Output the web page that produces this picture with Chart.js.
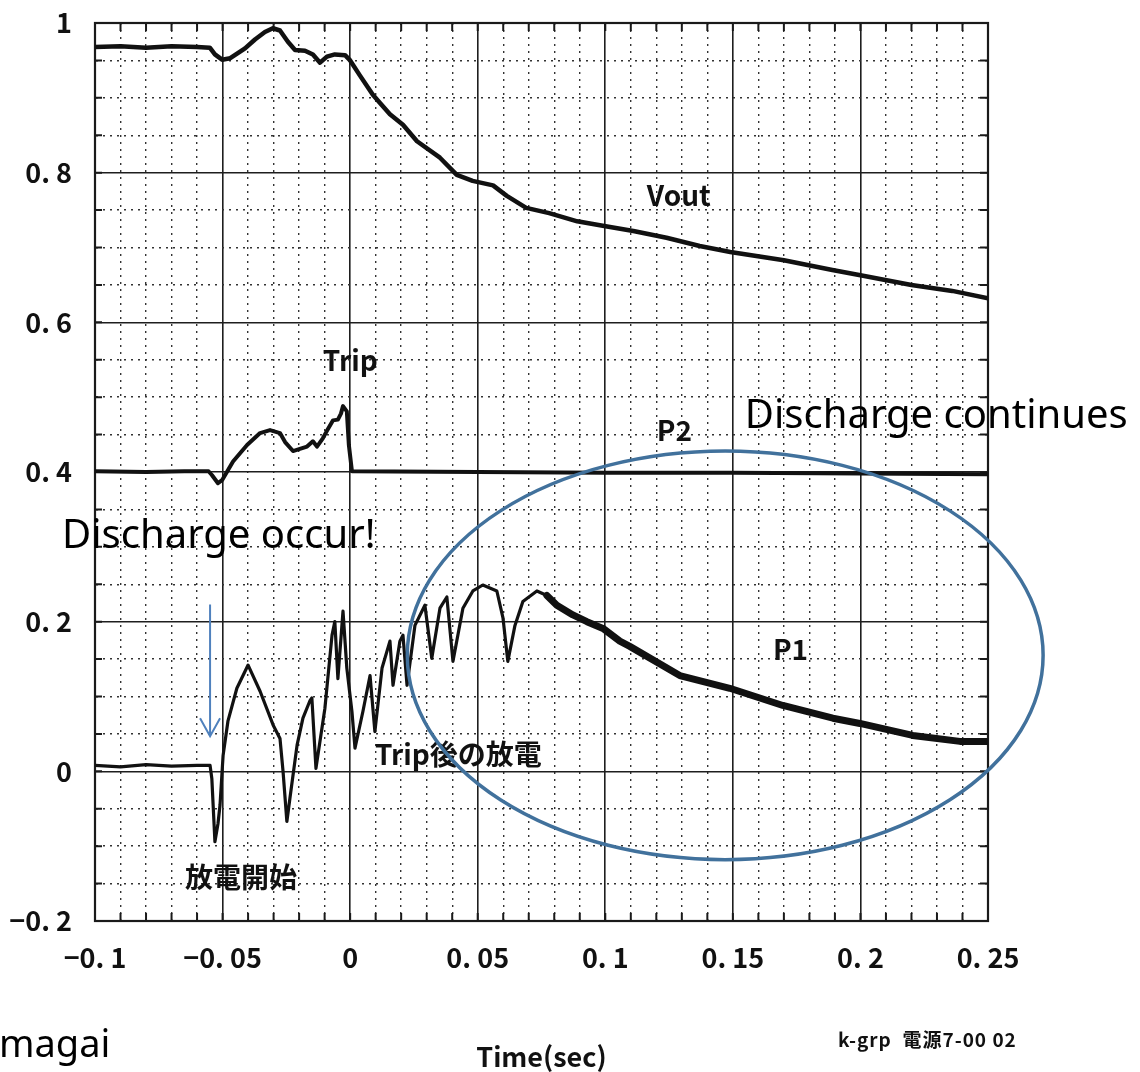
<!DOCTYPE html>
<html>
<head>
<meta charset="utf-8">
<script src="https://cdn.jsdelivr.net/npm/chart.js@4.4.1/dist/chart.umd.min.js"></script>
<style>
  body { margin: 0; background: #fff; }
  #contenedor { width: 1140px; height: 1072px; }
</style>
</head>
<body>
<div id="contenedor"><canvas id="grafica" width="1140" height="1072"></canvas></div>
<script>
// Vout
var tVout = [-0.1, -0.09, -0.08, -0.07, -0.06, -0.055, -0.053, -0.0502, -0.047, -0.0412,
             -0.0373, -0.0334, -0.0303, -0.0275, -0.0244, -0.0216, -0.0177, -0.0146, -0.0118, -0.0091,
             -0.006, -0.002, 0.0, 0.0038, 0.0089, 0.0117, 0.0156, 0.0207, 0.0262, 0.0352,
             0.0418, 0.048, 0.056, 0.0614, 0.069, 0.078, 0.089, 0.099, 0.111, 0.124,
             0.137, 0.149, 0.17, 0.189, 0.2, 0.22, 0.236, 0.25];
var vout  = [0.968, 0.969, 0.967, 0.969, 0.968, 0.967, 0.958, 0.951, 0.953, 0.966,
             0.978, 0.988, 0.993, 0.99, 0.975, 0.964, 0.963, 0.958, 0.947, 0.955,
             0.958, 0.957, 0.95, 0.93, 0.904, 0.893, 0.878, 0.864, 0.842, 0.82,
             0.797, 0.789, 0.783, 0.769, 0.753, 0.746, 0.735, 0.729, 0.722, 0.713,
             0.702, 0.694, 0.683, 0.67, 0.663, 0.65, 0.642, 0.632];

// P2
var tP2 = [-0.1, -0.08, -0.065, -0.0555, -0.0542, -0.0518, -0.0502, -0.0459, -0.0404, -0.0353,
           -0.0314, -0.0275, -0.0255, -0.0224, -0.0197, -0.0169, -0.0146, -0.013, -0.0107, -0.0091,
           -0.0067, -0.0048, -0.0036, -0.0028, -0.0013, -0.0005, 0.0007, 0.05, 0.1, 0.15,
           0.2, 0.25];
var p2  = [0.401, 0.4, 0.401, 0.401, 0.396, 0.385, 0.389, 0.414, 0.436, 0.452,
           0.456, 0.452, 0.44, 0.428, 0.431, 0.434, 0.441, 0.434, 0.445, 0.455,
           0.469, 0.47, 0.478, 0.488, 0.481, 0.436, 0.401, 0.4, 0.399, 0.399,
           0.398, 0.397];

// P1
var tP1 = [-0.1, -0.09, -0.08, -0.07, -0.06, -0.0549, -0.0542, -0.053, -0.0518, -0.051,
           -0.0498, -0.0479, -0.0444, -0.04, -0.0353, -0.0302, -0.0275, -0.0263, -0.0248, -0.0236,
           -0.0208, -0.0185, -0.0158, -0.015, -0.0134, -0.0099, -0.0071, -0.006, -0.0048, -0.0028,
           -0.0013, 0.0007, 0.0019, 0.005, 0.0078, 0.0097, 0.0125, 0.0156, 0.0168, 0.0195,
           0.0207, 0.0223, 0.0254, 0.0293, 0.032, 0.0352, 0.0379, 0.0403, 0.0442, 0.0481,
           0.052, 0.0575, 0.0599, 0.0618, 0.0646, 0.0677, 0.0732, 0.0771, 0.081, 0.0873,
           0.0928, 0.0991, 0.1057, 0.1096, 0.1292, 0.1488, 0.1696, 0.1892, 0.1998, 0.2205,
           0.239, 0.25];
var p1  = [0.008, 0.006, 0.009, 0.007, 0.008, 0.008, -0.01, -0.094, -0.07, -0.045,
           0.021, 0.067, 0.111, 0.142, 0.107, 0.062, 0.044, 0.0, -0.067, -0.036,
           0.035, 0.071, 0.094, 0.098, 0.004, 0.084, 0.182, 0.2, 0.124, 0.214,
           0.138, 0.08, 0.031, 0.08, 0.128, 0.053, 0.138, 0.174, 0.115, 0.174,
           0.182, 0.115, 0.195, 0.222, 0.151, 0.218, 0.233, 0.147, 0.218, 0.241,
           0.249, 0.241, 0.205, 0.147, 0.195, 0.227, 0.241, 0.235, 0.222, 0.209,
           0.2, 0.191, 0.174, 0.167, 0.128, 0.111, 0.088, 0.071, 0.064, 0.048,
           0.04, 0.04];

// ejes: valores con etiqueta y su texto
var xMayores = [-0.1, -0.05, 0, 0.05, 0.1, 0.15, 0.2, 0.25];
var xEtiquetas = ['\u22120. 1', '\u22120. 05', '0', '0. 05', '0. 1', '0. 15', '0. 2', '0. 25'];
var yMayores = [-0.2, 0, 0.2, 0.4, 0.6, 0.8, 1];
var yEtiquetas = ['\u22120. 2', '0', '0. 2', '0. 4', '0. 6', '0. 8', '1'];

var fuenteJP = '"Noto Sans CJK JP", "Noto Sans", sans-serif';
var fuenteNota = '"Noto Sans", "Open Sans", sans-serif';

function puntos(ts, vs) {
    return ts.map(function(t, i) { return { x: t, y: vs[i] }; });
}

function indiceMayor(lista, v) {
    for (var i = 0; i < lista.length; i++) {
        if (Math.abs(lista[i] - v) < 1e-6) return i;
    }
    return -1;
}

function esMayorX(c) { return c.tick && indiceMayor(xMayores, c.tick.value) >= 0; }
function esMayorY(c) { return c.tick && indiceMayor(yMayores, c.tick.value) >= 0; }

function texto(ctx, str, x, y, fuente, color) {
    ctx.font = fuente;
    ctx.fillStyle = color || '#111';
    ctx.textAlign = 'left';
    ctx.textBaseline = 'alphabetic';
    ctx.fillText(str, x, y);
}

// marcas del marco, elipse, flecha y notas
var notas = {
    id: 'notas',
    beforeDatasetsDraw: function(chart) {
        var ctx = chart.ctx, a = chart.chartArea;
        var sx = chart.scales.x, sy = chart.scales.y;
        ctx.save();
        ctx.strokeStyle = '#1a1a1a';
        ctx.lineWidth = 2;
        sx.ticks.forEach(function(t) {
            var px = sx.getPixelForValue(t.value);
            ctx.beginPath();
            ctx.moveTo(px, a.top); ctx.lineTo(px, a.top + 8);
            ctx.moveTo(px, a.bottom); ctx.lineTo(px, a.bottom - 8);
            ctx.stroke();
        });
        sy.ticks.forEach(function(t) {
            var py = sy.getPixelForValue(t.value);
            ctx.beginPath();
            ctx.moveTo(a.left, py); ctx.lineTo(a.left + 7, py);
            ctx.moveTo(a.right, py); ctx.lineTo(a.right - 8, py);
            ctx.stroke();
        });
        ctx.lineWidth = 2.2;
        ctx.strokeRect(a.left, a.top, a.right - a.left, a.bottom - a.top);
        ctx.restore();
    },
    afterDatasetsDraw: function(chart) {
        var ctx = chart.ctx;
        var sx = chart.scales.x, sy = chart.scales.y;
        function X(t) { return sx.getPixelForValue(t); }
        function Y(v) { return sy.getPixelForValue(v); }
        ctx.save();

        // rótulos de las curvas
        var jp = 'bold 28px ' + fuenteJP;
        texto(ctx, 'Vout', X(0.1163), Y(0.7553), jp);
        texto(ctx, 'P2', X(0.1202), Y(0.4412), jp);
        texto(ctx, 'P1', X(0.1657), Y(0.1484), jp);
        texto(ctx, 'Trip', X(-0.0107), Y(0.5348), jp);
        texto(ctx, 'Trip後の放電', X(0.0097), Y(0.008), jp);
        texto(ctx, '放電開始', X(-0.0647), Y(-0.1564), jp);

        // elipse de la descarga continua
        var cx = X(0.147), cy = Y(0.155);
        var rx = X(0.147 + 0.1246) - cx, ry = cy - Y(0.155 + 0.273);
        ctx.beginPath();
        ctx.ellipse(cx, cy, rx, ry, 0, 0, Math.PI * 2);
        ctx.strokeStyle = '#41719c';
        ctx.lineWidth = 3.5;
        ctx.stroke();

        // flecha al inicio de la descarga
        var fx = X(-0.0549), f1 = Y(0.223), f2 = Y(0.047);
        ctx.strokeStyle = '#4f81bd';
        ctx.lineWidth = 2;
        ctx.beginPath();
        ctx.moveTo(fx, f1); ctx.lineTo(fx, f2);
        ctx.moveTo(fx - 10, f2 - 18); ctx.lineTo(fx, f2); ctx.lineTo(fx + 10, f2 - 18);
        ctx.stroke();

        texto(ctx, 'Discharge occur!', X(-0.1129), Y(0.2987), '40px ' + fuenteNota, '#000');
        texto(ctx, 'Discharge continues', X(0.1547), Y(0.4590), '40px ' + fuenteNota, '#000');

        // pie de la gráfica
        var a = chart.chartArea;
        ctx.font = 'bold 27px ' + fuenteJP;
        ctx.fillStyle = '#111';
        ctx.textAlign = 'center';
        ctx.fillText('Time(sec)', (a.left + a.right) / 2, 1067);
        ctx.letterSpacing = '1px';
        texto(ctx, 'k-grp  電源7-00 02', 838, 1047, 'bold 19px ' + fuenteJP);
        ctx.letterSpacing = '0px';
        texto(ctx, 'magai', -1, 1057, '38px ' + fuenteNota, '#000');
        ctx.restore();
    }
};

var negro = '#111';

new Chart(document.getElementById('grafica'), {
    type: 'line',
    data: {
        datasets: [
            { label: 'Vout', data: puntos(tVout, vout), borderColor: negro, borderWidth: 4.5 },
            { label: 'P2', data: puntos(tP2, p2), borderColor: negro, borderWidth: 4 },
            { label: 'P1', data: puntos(tP1, p1), borderColor: negro, borderWidth: 3,
              segment: { borderWidth: function(c) { return c.p0.parsed.x > 0.075 ? 7 : 3.2; } } }
        ]
    },
    plugins: [notas],
    options: {
        responsive: false,
        animation: false,
        layout: { padding: { top: 23, right: 152, left: 0, bottom: 0 } },
        elements: { point: { radius: 0 }, line: { tension: 0, borderJoinStyle: 'round', borderCapStyle: 'round' } },
        plugins: { legend: { display: false }, tooltip: { enabled: false } },
        scales: {
            x: {
                type: 'linear',
                min: -0.1,
                max: 0.25,
                afterFit: function(s) { s.height = 151; },
                ticks: {
                    stepSize: 0.01,
                    autoSkip: false,
                    maxRotation: 0,
                    minRotation: 0,
                    padding: 21,
                    color: '#111',
                    font: { family: fuenteJP, size: 27, weight: 'bold' },
                    callback: function(v) {
                        var i = indiceMayor(xMayores, v);
                        return i >= 0 ? xEtiquetas[i] : '';
                    }
                },
                grid: {
                    drawTicks: false,
                    color: function(c) { return esMayorX(c) ? '#1e1e1e' : '#333'; },
                    lineWidth: function(c) { return esMayorX(c) ? 1.6 : 1.4; }
                },
                border: {
                    display: true, color: '#1a1a1a', width: 2,
                    dash: function(c) { return c.tick && !esMayorX(c) ? [2, 5] : []; }
                }
            },
            y: {
                type: 'linear',
                min: -0.2,
                max: 1,
                afterFit: function(s) { s.width = 95; s.paddingTop = 0; s.paddingBottom = 0; },
                ticks: {
                    stepSize: 0.05,
                    autoSkip: false,
                    padding: 23,
                    color: '#111',
                    font: { family: fuenteJP, size: 27, weight: 'bold' },
                    callback: function(v) {
                        var i = indiceMayor(yMayores, v);
                        return i >= 0 ? yEtiquetas[i] : '';
                    }
                },
                grid: {
                    drawTicks: false,
                    color: function(c) { return esMayorY(c) ? '#1e1e1e' : '#333'; },
                    lineWidth: function(c) { return esMayorY(c) ? 1.6 : 1.4; }
                },
                border: {
                    display: true, color: '#1a1a1a', width: 2,
                    dash: function(c) { return c.tick && !esMayorY(c) ? [2, 5] : []; }
                }
            }
        }
    }
});
</script>
</body>
</html>
